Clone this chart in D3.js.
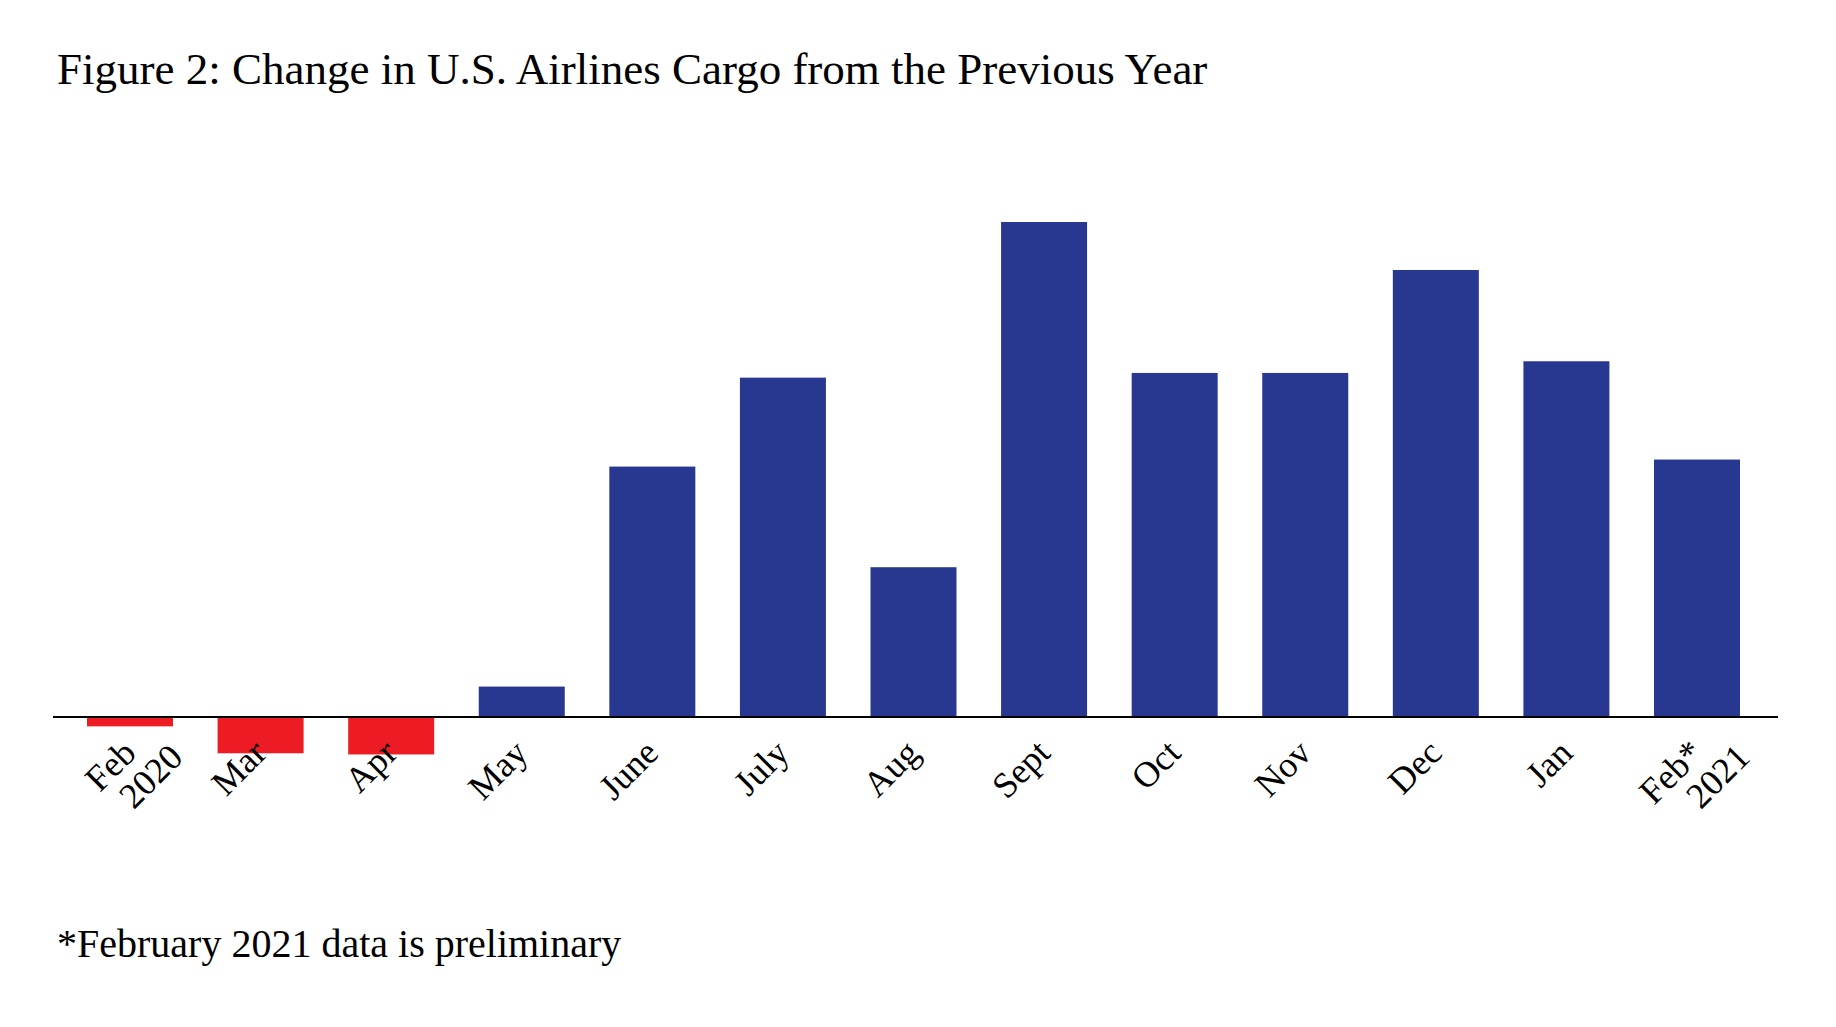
<!DOCTYPE html>
<html><head><meta charset="utf-8">
<script src="https://cdn.jsdelivr.net/npm/d3@7"></script>
<style>body{margin:0;background:#fff}</style></head>
<body><svg id="c" width="1836" height="1027"></svg>
<script>
const categories = ["Feb|2020","Mar","Apr","May","June","July","Aug","Sept","Oct","Nov","Dec","Jan","Feb*|2021"];
const values = [-8,-31,-32,26,214,290,128,423,294,294,382,304,220];
const title = "Figure 2: Change in U.S. Airlines Cargo from the Previous Year";
const footnote = "*February 2021 data is preliminary";

const svg = d3.select("#c");
const font = "'Liberation Serif','Times New Roman',serif";
const x = d3.scalePoint().domain(categories).range([130,1697]);
const bw = 86;
const y = d3.scaleLinear().domain([0,423]).range([717,222]);

svg.append("text").attr("x",57).attr("y",84).attr("font-family",font).attr("font-size",45).text(title);

svg.selectAll("rect.bar").data(values).join("rect")
  .attr("x",(d,i)=>x(categories[i])-bw/2).attr("width",bw)
  .attr("y",d=>y(Math.max(0,d))).attr("height",d=>Math.abs(y(d)-y(0)))
  .attr("fill",d=>d<0?"#ed1c24":"#283891");

svg.append("line").attr("x1",53).attr("x2",1778).attr("y1",y(0)).attr("y2",y(0)).attr("stroke","#000").attr("stroke-width",2);

categories.forEach(c=>{
  const parts=c.split("|");
  const t=svg.append("text").attr("font-family",font).attr("font-size",36).attr("text-anchor","end")
    .attr("transform",`translate(${x(c)+8},${y(0)+38}) rotate(-45)`);
  parts.forEach((p,j)=>t.append("tspan").attr("x",j*30).attr("dy",j?"1.0em":0).text(p));
});

svg.append("text").attr("x",57).attr("y",957).attr("font-family",font).attr("font-size",40).text(footnote);
</script></body></html>
